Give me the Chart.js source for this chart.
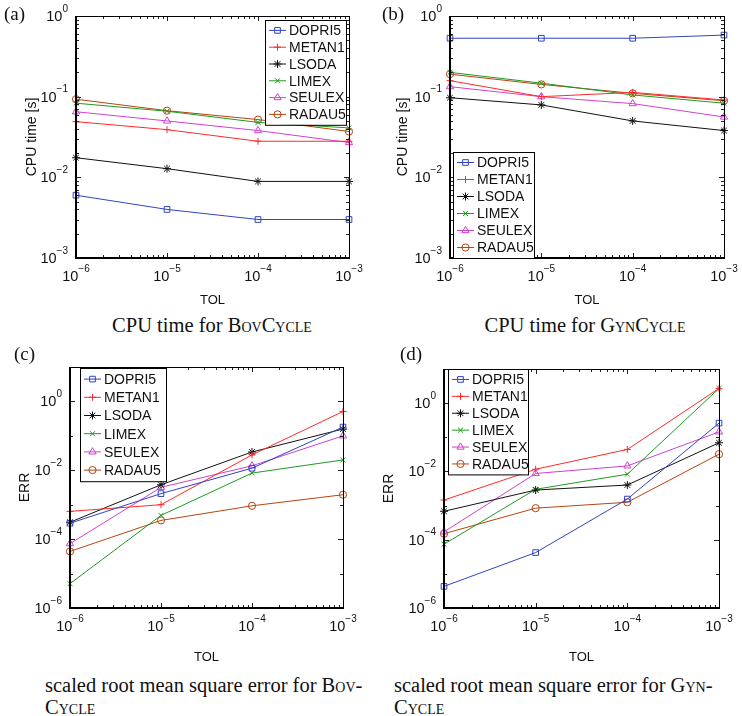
<!DOCTYPE html>
<html lang="en">
<head>
<meta charset="UTF-8">
<title>CPU time and ERR vs TOL</title>
<script src="https://cdn.jsdelivr.net/npm/chart.js"></script>
<style>
  body { margin: 0; background: #fff; }
  #page { position: relative; width: 742px; height: 716px; overflow: hidden; }
  canvas { position: absolute; }
  .cap { position: absolute; font-family: "Liberation Serif", "Times New Roman", serif; font-size: 20.5px; color: #111; line-height: 22px; white-space: nowrap; }
  .sc { font-variant: small-caps; }
</style>
</head>
<body>
<div id="page">
  <canvas id="cA" width="371" height="310" style="left:0;top:0"></canvas>
  <canvas id="cB" width="371" height="310" style="left:371px;top:0"></canvas>
  <canvas id="cC" width="371" height="330" style="left:0;top:340px"></canvas>
  <canvas id="cD" width="371" height="330" style="left:371px;top:340px"></canvas>
  <div class="cap" style="left:0;width:424px;top:314px;text-align:center">CPU time for B<span class="sc">ov</span>C<span class="sc">ycle</span></div>
  <div class="cap" style="left:371px;width:428px;top:314px;text-align:center">CPU time for G<span class="sc">yn</span>C<span class="sc">ycle</span></div>
  <div class="cap" style="left:45px;top:674px">scaled root mean square error for B<span class="sc">ov</span>-<br>C<span class="sc">ycle</span></div>
  <div class="cap" style="left:394px;top:674px">scaled root mean square error for G<span class="sc">yn</span>-<br>C<span class="sc">ycle</span></div>
</div>
<script>
// tolerances (x axis) and tick labels
const tol = [1e-6, 1e-5, 1e-4, 1e-3];
const cpuTicks = [1, 1e-1, 1e-2, 1e-3];
const errTicks = [1, 1e-2, 1e-4, 1e-6];

const solvers = ['DOPRI5', 'METAN1', 'LSODA', 'LIMEX', 'SEULEX', 'RADAU5'];
const colors = ['#2f44c0', '#ff2a2a', '#111111', '#1f9a1f', '#d040d0', '#b8440e'];
const markers = ['rect', 'cross', 'star', 'crossRot', 'triangle', 'circle'];
const markerSize = [4, 3.5, 4, 3.5, 4.2, 3.6];

// rows follow the solver order above
const cpuBov = [
  [0.006, 0.004, 0.003, 0.003],
  [0.049, 0.039, 0.028, 0.028],
  [0.0175, 0.0128, 0.0089, 0.0089],
  [0.083, 0.066, 0.048, 0.041],
  [0.065, 0.050, 0.038, 0.027],
  [0.093, 0.067, 0.052, 0.037]
];
const cpuGyn = [
  [0.53, 0.53, 0.53, 0.58],
  [0.158, 0.10, 0.113, 0.091],
  [0.097, 0.079, 0.050, 0.038],
  [0.20, 0.147, 0.105, 0.083],
  [0.133, 0.10, 0.082, 0.056],
  [0.19, 0.142, 0.11, 0.089]
];
const errBov = [
  [2.9e-4, 2.1e-3, 0.0115, 0.18],
  [6.4e-4, 1.0e-3, 0.028, 0.51],
  [3.1e-4, 3.8e-3, 0.034, 0.158],
  [5.1e-6, 4.9e-4, 8.3e-3, 0.020],
  [7.4e-5, 3.2e-3, 0.0135, 0.10],
  [4.4e-5, 3.5e-4, 9.3e-4, 1.95e-3]
];
const errGyn = [
  [4.3e-6, 4.2e-5, 1.55e-3, 0.26],
  [1.45e-3, 0.0116, 0.044, 2.7],
  [6.8e-4, 2.85e-3, 4.0e-3, 0.069],
  [7.4e-5, 3.0e-3, 8.3e-3, 2.7],
  [1.7e-4, 8.7e-3, 0.0145, 0.144],
  [1.5e-4, 8.4e-4, 1.25e-3, 0.032]
];

const SANS = '"Liberation Sans", Arial, Helvetica, sans-serif';
const SERIF = '"Liberation Serif", "Times New Roman", serif';

// draws a "10^n" label; align: 'right' (y axis) or 'center' (x axis)
function powLabel(ctx, v, x, y, align) {
  const e = String(Math.round(Math.log10(v))).replace('-', '\u2212');
  ctx.font = '14.5px ' + SANS;
  const wb = ctx.measureText('10').width;
  ctx.font = '10px ' + SANS;
  const we = ctx.measureText(e).width;
  let x0 = align === 'right' ? x - wb - we : x - (wb + we) / 2;
  ctx.fillStyle = '#111';
  ctx.textAlign = 'left';
  ctx.textBaseline = 'middle';
  ctx.font = '14.5px ' + SANS;
  ctx.fillText('10', x0, y);
  ctx.font = '10px ' + SANS;
  ctx.fillText(e, x0 + wb, y - 8);
}

const mathAxes = {
  id: 'mathAxes',
  afterDatasetsDraw(chart, args, o) {
    const ctx = chart.ctx;
    const a = chart.chartArea;
    const xs = chart.scales.x, ys = chart.scales.y;
    ctx.save();
    // minor ticks
    ctx.strokeStyle = '#222';
    ctx.lineWidth = 1;
    ctx.beginPath();
    const minorY = [];
    const lo = Math.round(Math.log10(ys.min)), hi = Math.round(Math.log10(ys.max));
    for (let d = lo; d <= hi; d++) {
      if (o.yStep === 1) {
        for (let k = 2; k < 10; k++) if (d < hi) minorY.push(k * Math.pow(10, d));
      } else if (!o.yTicks.some(t => Math.abs(Math.log10(t) - d) < 1e-6)) {
        minorY.push(Math.pow(10, d));
      }
    }
    minorY.forEach(v => {
      const p = Math.round(ys.getPixelForValue(v)) + 0.5;
      ctx.moveTo(a.left, p); ctx.lineTo(a.left + 3, p);
      ctx.moveTo(a.right, p); ctx.lineTo(a.right - 3, p);
    });
    for (let d = -6; d < -3; d++) {
      for (let k = 2; k < 10; k++) {
        const p = Math.round(xs.getPixelForValue(k * Math.pow(10, d))) + 0.5;
        ctx.moveTo(p, a.bottom); ctx.lineTo(p, a.bottom - 3);
        ctx.moveTo(p, a.top); ctx.lineTo(p, a.top + 3);
      }
    }
    ctx.stroke();
    // major ticks
    ctx.beginPath();
    o.yTicks.forEach(v => {
      const p = Math.round(ys.getPixelForValue(v)) + 0.5;
      ctx.moveTo(a.left, p); ctx.lineTo(a.left + 5, p);
      ctx.moveTo(a.right, p); ctx.lineTo(a.right - 5, p);
    });
    tol.forEach(v => {
      const p = Math.round(xs.getPixelForValue(v)) + 0.5;
      ctx.moveTo(p, a.bottom); ctx.lineTo(p, a.bottom - 5);
      ctx.moveTo(p, a.top); ctx.lineTo(p, a.top + 5);
    });
    ctx.stroke();
    // box
    ctx.strokeStyle = '#000';
    ctx.lineWidth = 1;
    ctx.strokeRect(a.left + 0.5, a.top + 0.5, a.right - a.left, a.bottom - a.top);
    ctx.lineWidth = 2;
    ctx.beginPath();
    ctx.moveTo(a.left, a.top); ctx.lineTo(a.left, a.bottom); ctx.lineTo(a.right, a.bottom);
    ctx.stroke();
    // tick labels
    o.yTicks.forEach(v => powLabel(ctx, v, a.left - 8, ys.getPixelForValue(v) + 1, 'right'));
    tol.forEach(v => powLabel(ctx, v, xs.getPixelForValue(v), a.bottom + 19, 'center'));
    // axis titles
    ctx.fillStyle = '#111';
    ctx.textAlign = 'center';
    ctx.textBaseline = 'middle';
    ctx.font = '13px ' + SANS;
    ctx.fillText('TOL', (a.left + a.right) / 2, o.xTitleY);
    ctx.save();
    ctx.translate(o.yTitleX, (a.top + a.bottom) / 2);
    ctx.rotate(-Math.PI / 2);
    ctx.font = '14px ' + SANS;
    ctx.fillText(o.yTitle, 0, 0);
    ctx.restore();
    // panel letter
    ctx.font = '19px ' + SERIF;
    ctx.textAlign = 'left';
    ctx.fillText(o.letter, o.letterX, o.letterY);
    // legend
    const L = o.legend;
    const h = L.row * solvers.length + 4;
    ctx.fillStyle = '#fff';
    ctx.fillRect(L.x, L.y, L.w, h);
    ctx.strokeStyle = '#000';
    ctx.lineWidth = 1;
    ctx.strokeRect(L.x + 0.5, L.y + 0.5, L.w, h);
    solvers.forEach((name, i) => {
      const cy = L.y + 2 + L.row * (i + 0.5);
      ctx.strokeStyle = colors[i];
      ctx.lineWidth = 1;
      ctx.beginPath();
      ctx.moveTo(L.x + 4, cy); ctx.lineTo(L.x + 21, cy);
      ctx.stroke();
      ctx.fillStyle = 'rgba(0,0,0,0)';
      Chart.helpers.drawPoint(ctx, { pointStyle: markers[i], radius: markerSize[i], rotation: 0, borderWidth: 1 }, L.x + 12.5, cy);
      ctx.fillStyle = '#111';
      ctx.font = '14px ' + SANS;
      ctx.textAlign = 'left';
      ctx.textBaseline = 'middle';
      ctx.fillText(name, L.x + 24, cy + 1);
    });
    ctx.restore();
  }
};

function makeChart(id, box, yMin, yMax, rows, opts) {
  const cv = document.getElementById(id);
  const W = cv.width, H = cv.height;
  return new Chart(cv, {
    type: 'line',
    data: {
      datasets: solvers.map((name, i) => ({
        label: name,
        data: tol.map((t, j) => ({ x: t, y: rows[i][j] })),
        borderColor: colors[i],
        pointBorderColor: colors[i],
        backgroundColor: 'rgba(0,0,0,0)',
        pointBackgroundColor: 'rgba(0,0,0,0)',
        pointStyle: markers[i],
        pointRadius: markerSize[i],
        pointBorderWidth: 1,
        borderWidth: 1,
        tension: 0,
        clip: false
      }))
    },
    options: {
      responsive: false,
      animation: false,
      events: [],
      layout: { padding: { top: box.top, right: W - box.right, left: 0, bottom: 0 } },
      plugins: { legend: { display: false }, tooltip: { enabled: false }, mathAxes: opts },
      scales: {
        x: {
          type: 'logarithmic', min: 1e-6, max: 1e-3,
          ticks: { display: false }, grid: { display: false }, border: { display: false },
          afterFit: s => { s.height = H - box.bottom; }
        },
        y: {
          type: 'logarithmic', min: yMin, max: yMax,
          ticks: { display: false }, grid: { display: false }, border: { display: false },
          afterFit: s => { s.width = box.left; }
        }
      }
    },
    plugins: [mathAxes]
  });
}

makeChart('cA', { left: 76, right: 349, top: 16, bottom: 258 }, 1e-3, 1, cpuBov, {
  yTicks: cpuTicks, yStep: 1, yTitle: 'CPU time [s]', yTitleX: 32, xTitleY: 300,
  letter: '(a)', letterX: 4, letterY: 15,
  legend: { x: 265, y: 20, w: 81, row: 16.8 }
});
makeChart('cB', { left: 79, right: 353, top: 16, bottom: 258 }, 1e-3, 1, cpuGyn, {
  yTicks: cpuTicks, yStep: 1, yTitle: 'CPU time [s]', yTitleX: 32, xTitleY: 300,
  letter: '(b)', letterX: 11, letterY: 15,
  legend: { x: 82, y: 152, w: 81, row: 17 }
});
makeChart('cC', { left: 70, right: 343, top: 27, bottom: 268 }, 1e-6, 10, errBov, {
  yTicks: errTicks, yStep: 2, yTitle: 'ERR', yTitleX: 25, xTitleY: 317,
  letter: '(c)', letterX: 14, letterY: 15,
  legend: { x: 80, y: 28, w: 86, row: 18.2 }
});
makeChart('cD', { left: 73, right: 348, top: 29, bottom: 268 }, 1e-6, 10, errGyn, {
  yTicks: errTicks, yStep: 2, yTitle: 'ERR', yTitleX: 18, xTitleY: 317,
  letter: '(d)', letterX: 29, letterY: 15,
  legend: { x: 77, y: 29, w: 80, row: 16.9 }
});
</script>
</body>
</html>
